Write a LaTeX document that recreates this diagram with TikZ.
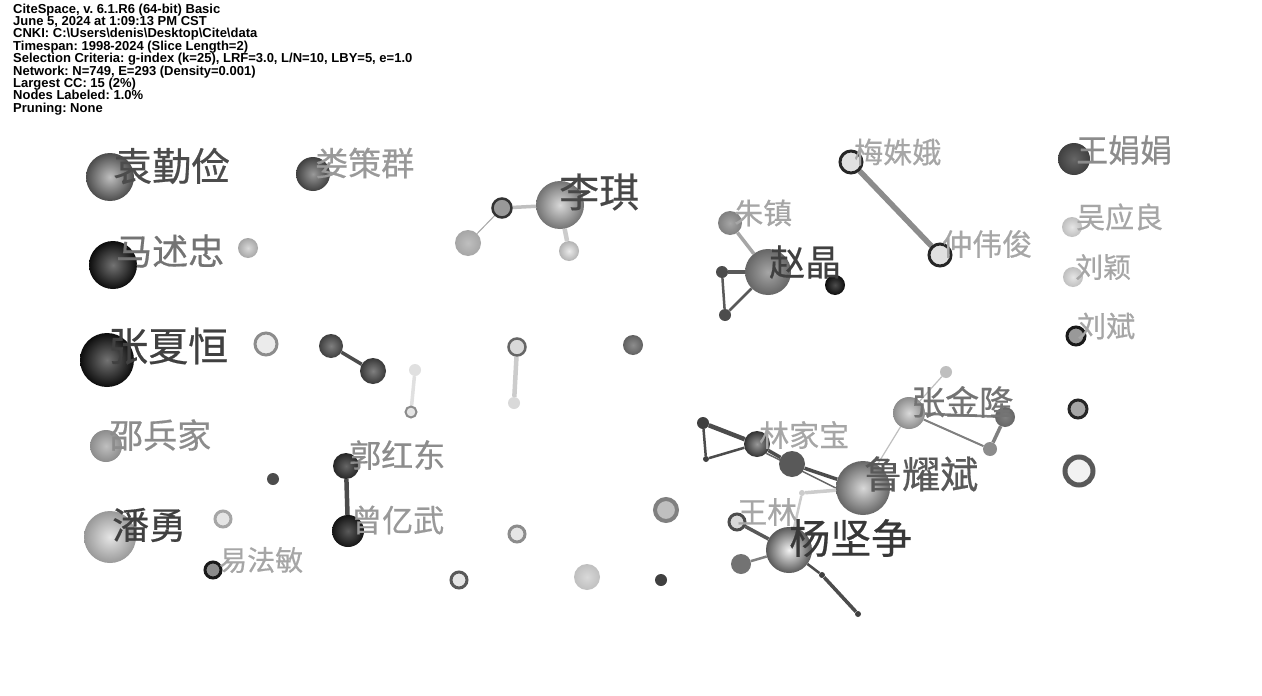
\documentclass[tikz,border=0pt]{standalone}
\usepackage{fontspec}
\setmainfont{Liberation Sans}
\newfontfamily\cjk[FakeBold=0.5]{Noto Sans CJK SC}
\usetikzlibrary{backgrounds}
\begin{document}
\begin{tikzpicture}[x=1pt,y=-1pt,
  nd/.style={circle,inner sep=0pt,minimum size=#1},
  sh/.style 2 args={shade,inner color=black!#1,outer color=black!#2},
  ring/.style n args={3}{draw=black!#1,fill=black!#2,line width=#3},
  flat/.style={fill=black!#1},
  ed/.style 2 args={draw=black!#1,line width=#2},
  lbl/.style 2 args={anchor=west,inner sep=0pt,text=black!#1,font=\cjk\fontsize{#2}{#2}\selectfont},
  hdr/.style={anchor=north west,inner sep=0pt,align=left,font=\fontsize{13}{12.4}\bfseries\selectfont\frenchspacing}]
\useasboundingbox (0,0) rectangle (1262,696);
\node[hdr] (header) at (13,3.5) {CiteSpace, v. 6.1.R6 (64-bit) Basic\\
June 5, 2024 at 1:09:13 PM CST\\
CNKI: C:\textbackslash Users\textbackslash denis\textbackslash Desktop\textbackslash Cite\textbackslash data\\
Timespan: 1998-2024 (Slice Length=2)\\
Selection Criteria: g-index (k=25), LRF=3.0, L/N=10, LBY=5, e=1.0\\
Network: N=749, E=293 (Density=0.001)\\
Largest CC: 15 (2\%)\\
Nodes Labeled: 1.0\%\\
Pruning: None};
% nodes
\node[nd=48,sh={25}{70}] (yuan) at (110,177) {};
\node[nd=34,sh={40}{75}] (lou) at (313,174) {};
\node[nd=48,sh={55}{95}] (ma) at (113,265) {};
\node[nd=20,sh={15}{35}] (n4) at (248,248) {};
\node[nd=54,sh={55}{95}] (zhang) at (107,360) {};
\node[nd=22,ring={45}{8}{3pt}] (n6) at (266,344) {};
\node[nd=24,sh={50}{75}] (n7a) at (331,346) {};
\node[nd=26,sh={50}{78}] (n7b) at (373,371) {};
\node[nd=12,flat=12] (n8a) at (415,370) {};
\node[nd=11,ring={45}{10}{2pt}] (n8b) at (411,412) {};
\node[nd=17,ring={60}{15}{2.5pt}] (n9a) at (517,347) {};
\node[nd=12,flat=15] (n9b) at (514,403) {};
\node[nd=20,sh={45}{62}] (n10) at (633,345) {};
\node[nd=48,sh={15}{55}] (li) at (560,205) {};
\node[nd=19,ring={80}{40}{2.5pt}] (n11a) at (502,208) {};
\node[nd=26,sh={25}{35}] (n11b) at (468,243) {};
\node[nd=20,sh={8}{30}] (n11c) at (569,251) {};
\node[nd=24,sh={35}{50}] (zhu) at (730,223) {};
\node[nd=46,sh={35}{60}] (zhao) at (768,272) {};
\node[nd=12,flat=70] (n13a) at (722,272) {};
\node[nd=12,flat=70] (n13b) at (725,315) {};
\node[nd=20,sh={70}{95}] (n14) at (835,285) {};
\node[nd=22,ring={85}{12}{3pt}] (mei) at (851,162) {};
\node[nd=22,ring={85}{12}{3pt}] (zhong) at (940,255) {};
\node[nd=32,sh={60}{75}] (wangjj) at (1074,159) {};
\node[nd=20,sh={10}{25}] (wu) at (1072,227) {};
\node[nd=20,sh={10}{25}] (liuy) at (1073,277) {};
\node[nd=18,ring={90}{40}{3pt}] (liub) at (1076,336) {};
\node[nd=18,ring={85}{35}{3pt}] (n20) at (1078,409) {};
\node[nd=28,ring={65}{5}{5pt}] (n21) at (1079,471) {};
\node[nd=32,sh={15}{45}] (zhangjl) at (909,413) {};
\node[nd=12,flat=25] (n22a) at (946,372) {};
\node[nd=20,sh={50}{60}] (n22b) at (1005,417) {};
\node[nd=14,flat=45] (n22c) at (990,449) {};
\node[nd=54,sh={15}{60}] (lu) at (863,488) {};
\node[nd=26,sh={40}{80}] (lin) at (757,444) {};
\node[nd=26,flat=65] (n24a) at (792,464) {};
\node[nd=12,flat=75] (n24b) at (703,423) {};
\node[nd=6,flat=75] (n24c) at (706,459) {};
\node[nd=6,flat=20] (n25) at (802,493) {};
\node[nd=16,ring={70}{15}{3pt}] (wanglin) at (737,522) {};
\node[nd=46,sh={5}{65}] (yang) at (789,550) {};
\node[nd=20,flat=55] (n26a) at (741,564) {};
\node[nd=6,flat=75] (n26b) at (822,575) {};
\node[nd=6,flat=75] (n26c) at (858,614) {};
\node[nd=32,sh={25}{45}] (shao) at (106,446) {};
\node[nd=52,sh={10}{40}] (pan) at (110,537) {};
\node[nd=16,ring={35}{10}{3pt}] (n29) at (223,519) {};
\node[nd=16,ring={90}{45}{3pt}] (yi) at (213,570) {};
\node[nd=12,flat=70] (n31) at (273,479) {};
\node[nd=26,sh={60}{85}] (guo) at (346,466) {};
\node[nd=32,sh={65}{92}] (zeng) at (348,531) {};
\node[nd=16,ring={45}{10}{3pt}] (n33) at (517,534) {};
\node[nd=16,ring={65}{10}{3pt}] (n34) at (459,580) {};
\node[nd=26,sh={15}{25}] (n35) at (587,577) {};
\node[nd=12,flat=75] (n36) at (661,580) {};
\node[nd=22,ring={50}{25}{4pt}] (n37) at (666,510) {};
% edges
\begin{pgfonlayer}{background}
\fill[white] (0,0) rectangle (1262,696);
\draw[ed={70}{3.5pt}] (n7a) -- (n7b);
\draw[ed={12}{3.5pt}] (n8a) -- (n8b);
\draw[ed={20}{4.5pt}] (n9a) -- (n9b);
\draw[ed={25}{3.5pt}] (n11a) -- (li);
\draw[ed={35}{1pt}] (n11a) -- (n11b);
\draw[ed={20}{4.5pt}] (li) -- (n11c);
\draw[ed={35}{3.5pt}] (zhu) -- (zhao);
\draw[ed={65}{3.5pt}] (n13a) -- (zhao);
\draw[ed={65}{2.5pt}] (n13a) -- (n13b);
\draw[ed={65}{2.5pt}] (n13b) -- (zhao);
\draw[ed={45}{5.5pt}] (mei) -- (zhong);
\draw[ed={25}{1.2pt}] (zhangjl) -- (n22a);
\draw[ed={50}{2.5pt}] (zhangjl) -- (n22b);
\draw[ed={50}{2pt}] (zhangjl) -- (n22c);
\draw[ed={50}{3.5pt}] (n22c) -- (n22b);
\draw[ed={25}{1.2pt}] (lu) -- (zhangjl);
\draw[ed={70}{4.5pt}] (n24b) -- (lin);
\draw[ed={70}{2.5pt}] (n24b) -- (n24c);
\draw[ed={70}{2.5pt}] (n24c) -- (lin);
\draw[ed={70}{3.5pt}] (lin) -- (n24a);
\draw[ed={70}{3.5pt}] (n24a) -- (lu);
\draw[ed={60}{1.5pt}] (lin.south east) -- (lu.west);
\draw[ed={20}{3.5pt}] (lu) -- (n25);
\draw[ed={20}{2.5pt}] (n25) -- (yang);
\draw[ed={65}{3.5pt}] (wanglin) -- (yang);
\draw[ed={50}{2.5pt}] (n26a) -- (yang);
\draw[ed={70}{2.5pt}] (yang) -- (n26b);
\draw[ed={70}{3.5pt}] (n26b) -- (n26c);
\draw[ed={70}{4.5pt}] (guo) -- (zeng);
\end{pgfonlayer}
% labels
\node[lbl={70}{39}] (yuanL) at (113,166) {袁勤俭};
\node[lbl={40}{33}] (louL) at (315,163) {娄策群};
\node[lbl={55}{36}] (maL) at (116,251) {马述忠};
\node[lbl={75}{40}] (zhangL) at (108,346) {张夏恒};
\node[lbl={72}{40}] (liL) at (559,192) {李琪};
\node[lbl={35}{29}] (zhuL) at (734,213) {朱镇};
\node[lbl={75}{36}] (zhaoL) at (769,262) {赵晶};
\node[lbl={35}{29}] (meiL) at (854,152) {梅姝娥};
\node[lbl={35}{30}] (zhongL) at (942,244) {仲伟俊};
\node[lbl={45}{32}] (wangjjL) at (1076,150) {王娟娟};
\node[lbl={35}{29}] (wuL) at (1076,217) {吴应良};
\node[lbl={35}{28}] (liuyL) at (1075,267) {刘颖};
\node[lbl={35}{29}] (liubL) at (1077,326) {刘斌};
\node[lbl={55}{34}] (zhangjlL) at (911,402) {张金隆};
\node[lbl={65}{38}] (luL) at (864,474) {鲁耀斌};
\node[lbl={35}{30}] (linL) at (759,435) {林家宝};
\node[lbl={35}{30}] (wanglinL) at (737,512) {王林};
\node[lbl={78}{41}] (yangL) at (789,538) {杨坚争};
\node[lbl={45}{34}] (shaoL) at (109,435) {邵兵家};
\node[lbl={75}{37}] (panL) at (112,525) {潘勇};
\node[lbl={35}{28}] (yiL) at (219,560) {易法敏};
\node[lbl={45}{32}] (guoL) at (349,455) {郭红东};
\node[lbl={40}{31}] (zengL) at (351,520) {曾亿武};
\end{tikzpicture}
\end{document}
